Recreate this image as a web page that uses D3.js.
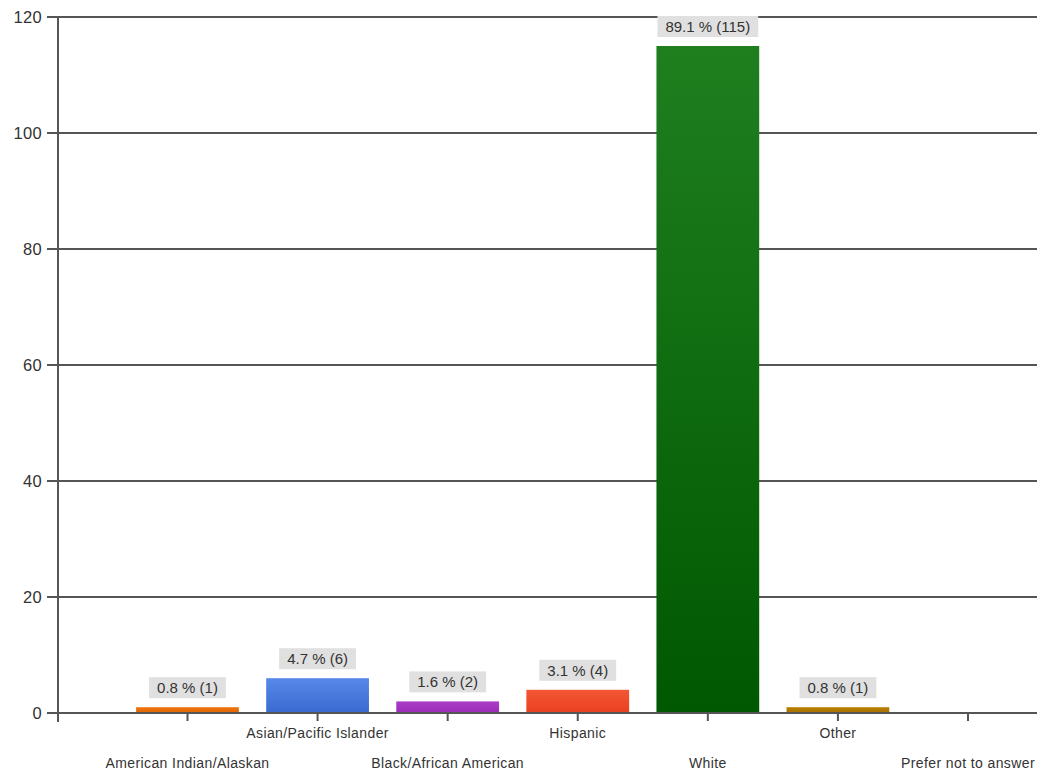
<!DOCTYPE html>
<html><head><meta charset="utf-8">
<script src="https://cdn.jsdelivr.net/npm/d3@7"></script>
<style>body{margin:0;background:#fff;} svg{display:block;}</style>
</head><body>
<svg id="c" width="1037" height="775"></svg>
<script>
const categories = ["American Indian/Alaskan","Asian/Pacific Islander","Black/African American","Hispanic","White","Other","Prefer not to answer"];
const counts = [1, 6, 2, 4, 115, 1, 0];
const percents = ["0.8 %","4.7 %","1.6 %","3.1 %","89.1 %","0.8 %",""];
const barTop = ["#ec7410","#5888e8","#aa3cc8","#f45634","#1f7f1f","#b88000","#888888"];
const barBottom = ["#e06400","#3a6ad0","#9a2cb8","#e84020","#005800","#a87000","#777777"];
const yTicks = [0,20,40,60,80,100,120];

const svg = d3.select("#c");
const y = d3.scaleLinear().domain([0,120]).range([713,17]);
const x = d3.scalePoint().domain(categories).range([187.5,968]);
const bw = x.step()*0.79;

const defs = svg.append("defs");
categories.forEach((c,i)=>{
  const g = defs.append("linearGradient").attr("id","g"+i).attr("x1",0).attr("x2",0).attr("y1",0).attr("y2",1);
  g.append("stop").attr("offset","0%").attr("stop-color",barTop[i]);
  g.append("stop").attr("offset","100%").attr("stop-color",barBottom[i]);
});

// gridlines
svg.append("g").selectAll("line").data(yTicks).join("line")
  .attr("x1",47).attr("x2",1037).attr("y1",d=>y(d)).attr("y2",d=>y(d))
  .attr("stroke","#555").attr("stroke-width",2);
// y axis line
svg.append("line").attr("x1",58).attr("x2",58).attr("y1",y(120)).attr("y2",722)
  .attr("stroke","#555").attr("stroke-width",2);
// y labels
svg.append("g").selectAll("text").data(yTicks).join("text")
  .attr("x",42).attr("y",d=>y(d)).attr("dy","0.35em").attr("text-anchor","end")
  .attr("font-family","Liberation Sans, Arial, sans-serif").attr("font-size",16.5).attr("fill","#333")
  .attr("letter-spacing","0.3")
  .text(d=>d);

// bars
svg.append("g").selectAll("rect").data(categories).join("rect")
  .filter((d,i)=>counts[i]>0)
  .attr("x",d=>x(d)-bw/2).attr("width",bw)
  .attr("y",(d)=>y(counts[categories.indexOf(d)]))
  .attr("height",(d)=>y(0)-y(counts[categories.indexOf(d)]))
  .attr("fill",(d)=>"url(#g"+categories.indexOf(d)+")");

// redraw x axis line on top
svg.append("line").attr("x1",58).attr("x2",1037).attr("y1",y(0)).attr("y2",y(0))
  .attr("stroke","#555").attr("stroke-width",2);
// x ticks
svg.append("g").selectAll("line").data(categories).join("line")
  .attr("x1",d=>x(d)).attr("x2",d=>x(d)).attr("y1",y(0)).attr("y2",y(0)+8)
  .attr("stroke","#555").attr("stroke-width",2);
// x labels staggered
svg.append("g").selectAll("text").data(categories).join("text")
  .attr("x",d=>x(d)).attr("y",(d,i)=> i%2===0 ? 768 : 738)
  .attr("text-anchor","middle")
  .attr("font-family","Liberation Sans, Arial, sans-serif").attr("font-size",14).attr("fill","#333")
  .attr("letter-spacing","0.4")
  .text(d=>d);

// value labels
const lab = svg.append("g").selectAll("g").data(categories.filter((d,i)=>counts[i]>0)).join("g");
lab.each(function(d){
  const i = categories.indexOf(d);
  const g = d3.select(this);
  const t = g.append("text").attr("x",x(d)).attr("y",y(counts[i])-14)
    .attr("text-anchor","middle")
    .attr("font-family","Liberation Sans, Arial, sans-serif").attr("font-size",15).attr("fill","#333")
    .text(percents[i]+" ("+counts[i]+")");
  const bb = t.node().getBBox();
  g.insert("rect","text").attr("x",bb.x-8).attr("y",bb.y-2).attr("width",bb.width+16).attr("height",bb.height+4)
    .attr("fill","#e0e0e0");
});
</script>
</body></html>
